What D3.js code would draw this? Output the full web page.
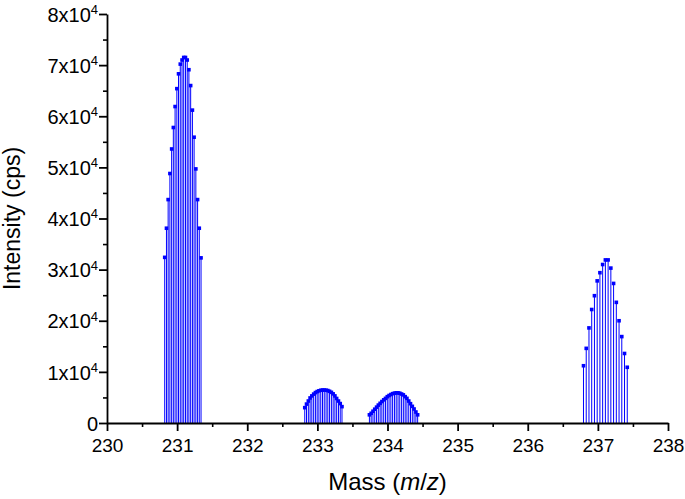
<!DOCTYPE html>
<html>
<head>
<meta charset="utf-8">
<script src="https://cdn.jsdelivr.net/npm/d3@7"></script>
<style>
  body { margin: 0; background: #fff; }
  svg { display: block; font-family: "Liberation Sans", Arial, sans-serif; }
</style>
</head>
<body>
<svg id="chart" width="685" height="499"></svg>
<script>
// peak near 231
const mass231 = [230.823, 230.848, 230.872, 230.897, 230.922, 230.946, 230.971, 230.996, 231.020, 231.045, 231.070,
  231.094, 231.119, 231.144, 231.168, 231.193, 231.218, 231.242, 231.267, 231.292, 231.316, 231.341];
const int231 = [32400, 38100, 43700, 48800, 53600, 57800, 61900, 65400, 68300, 70200, 71000,
  71500, 71500, 71000, 69100, 66000, 61200, 55900, 49700, 43700, 38100, 32300];

// peak near 233
const mass233 = [232.820, 232.845, 232.871, 232.896, 232.921, 232.947, 232.972, 232.997, 233.022, 233.048, 233.073,
  233.098, 233.124, 233.149, 233.174, 233.200, 233.225, 233.250, 233.275, 233.301, 233.326, 233.351];
const int233 = [3000, 3700, 4300, 4900, 5300, 5650, 5950, 6150, 6300, 6400, 6450,
  6450, 6420, 6350, 6200, 6000, 5700, 5300, 4800, 4300, 3800, 3200];

// peak near 234
const mass234 = [233.742, 233.767, 233.793, 233.818, 233.844, 233.869, 233.895, 233.920, 233.946, 233.971,
  233.997, 234.022, 234.048, 234.073, 234.099, 234.124, 234.150, 234.175, 234.201, 234.226,
  234.252, 234.277, 234.303, 234.328, 234.354, 234.379, 234.405, 234.430];
const int234 = [1600, 1900, 2300, 2700, 3100, 3500, 3850, 4200, 4530, 4820,
  5150, 5380, 5570, 5740, 5840, 5900, 5900, 5830, 5670, 5500,
  5150, 4820, 4300, 3780, 3260, 2740, 2150, 1600];

// peak near 237
const mass237 = [236.795, 236.834, 236.873, 236.912, 236.951, 236.990, 237.029, 237.068, 237.107,
  237.146, 237.185, 237.224, 237.263, 237.302, 237.341, 237.380, 237.419];
const int237 = [11200, 14600, 18600, 22200, 24900, 27800, 29400, 31000, 31900,
  31900, 30300, 27300, 23600, 20000, 16900, 13600, 10900];

const xTicks = [230, 231, 232, 233, 234, 235, 236, 237, 238];
const yTicks = [0, 10000, 20000, 30000, 40000, 50000, 60000, 70000, 80000];

const peaks = [[mass231, int231], [mass233, int233], [mass234, int234], [mass237, int237]];
const points = peaks.flatMap(([m, v]) => m.map((d, i) => ({ mass: d, intensity: v[i] })));

const width = 685, height = 499;
const margin = { top: 14, right: 17, bottom: 76, left: 107 };

const svg = d3.select('#chart');

const x = d3.scaleLinear().domain([230, 238]).range([margin.left, width - margin.right]);
const y = d3.scaleLinear().domain([0, 80000]).range([height - margin.bottom, margin.top]);

const blue = '#0000ff';

// stems
svg.append('g')
  .selectAll('line')
  .data(points)
  .join('line')
  .attr('x1', d => x(d.mass))
  .attr('x2', d => x(d.mass))
  .attr('y1', y(0))
  .attr('y2', d => y(d.intensity))
  .attr('stroke', blue)
  .attr('stroke-width', 1);

// markers
svg.append('g')
  .selectAll('rect')
  .data(points)
  .join('rect')
  .attr('x', d => x(d.mass) - 1.8)
  .attr('y', d => y(d.intensity) - 1.8)
  .attr('width', 3.6)
  .attr('height', 3.6)
  .attr('fill', blue);

// minor ticks
const xMinor = d3.range(230.5, 238, 1);
const yMinor = d3.range(5000, 80000, 10000);

svg.append('g')
  .attr('transform', `translate(0,${y(0)})`)
  .call(d3.axisBottom(x).tickValues(xMinor).tickSize(4).tickFormat(''))
  .call(g => g.select('.domain').remove())
  .selectAll('line').attr('stroke-width', 1.6);

svg.append('g')
  .attr('transform', `translate(${x(230)},0)`)
  .call(d3.axisLeft(y).tickValues(yMinor).tickSize(4).tickFormat(''))
  .call(g => g.select('.domain').remove())
  .selectAll('line').attr('stroke-width', 1.6);

// x axis
const xAxis = svg.append('g')
  .attr('transform', `translate(0,${y(0)})`)
  .call(d3.axisBottom(x).tickValues(xTicks).tickSize(8).tickSizeOuter(0).tickPadding(8).tickFormat(d3.format('d')));
xAxis.select('.domain').attr('stroke-width', 1.8);
xAxis.selectAll('.tick line').attr('stroke-width', 1.8);
xAxis.selectAll('text').style('font-size', '19px').attr('fill', '#000');

// y axis
const yAxis = svg.append('g')
  .attr('transform', `translate(${x(230)},0)`)
  .call(d3.axisLeft(y).tickValues(yTicks).tickSize(8).tickSizeOuter(0).tickPadding(3).tickFormat(''));
yAxis.select('.domain').attr('stroke-width', 1.8);
yAxis.selectAll('.tick line').attr('stroke-width', 1.8);

yAxis.selectAll('.tick').each(function (d) {
  const t = d3.select(this).append('text')
    .attr('x', -9)
    .attr('dy', '0.36em')
    .attr('text-anchor', 'end')
    .attr('fill', '#000')
    .style('font-size', '20px');
  if (d === 0) {
    t.text('0');
  } else {
    t.append('tspan').text(`${d / 10000}x10`);
    t.append('tspan').attr('dy', '-0.6em').style('font-size', '13px').text('4');
  }
});

// axis titles
const xTitle = svg.append('text')
  .attr('x', (margin.left + width - margin.right) / 2)
  .attr('y', 490)
  .attr('text-anchor', 'middle')
  .style('font-size', '24px');
xTitle.append('tspan').text('Mass (');
xTitle.append('tspan').style('font-style', 'italic').text('m');
xTitle.append('tspan').text('/');
xTitle.append('tspan').style('font-style', 'italic').text('z');
xTitle.append('tspan').text(')');

svg.append('text')
  .attr('transform', `translate(20,${(margin.top + height - margin.bottom) / 2}) rotate(-90)`)
  .attr('text-anchor', 'middle')
  .style('font-size', '23px')
  .text('Intensity (cps)');
</script>
</body>
</html>
